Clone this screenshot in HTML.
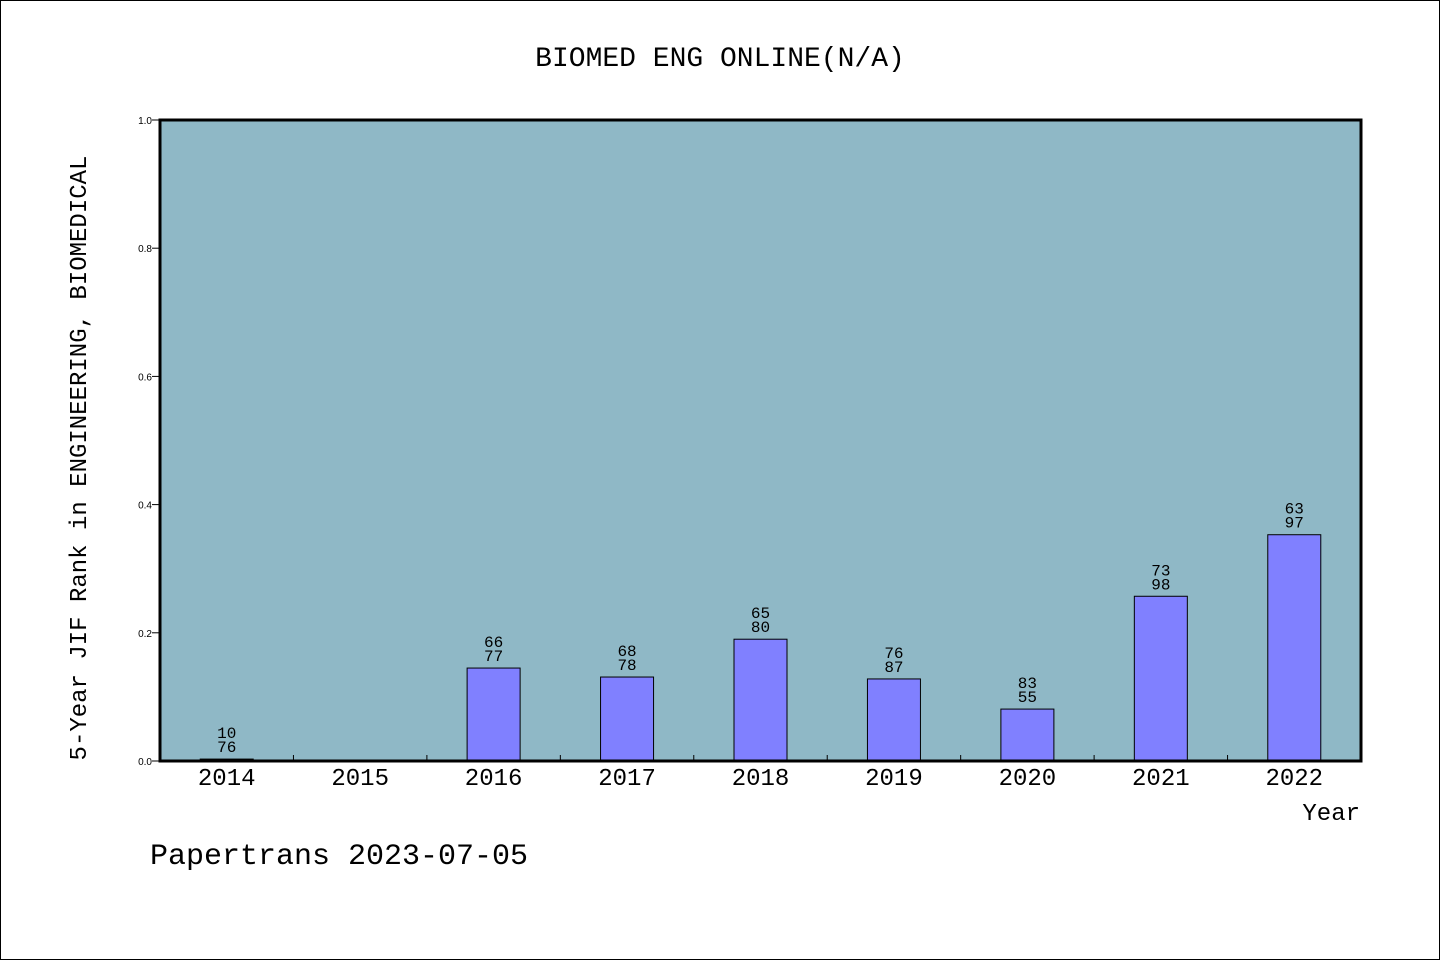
<!DOCTYPE html>
<html><head><meta charset="utf-8"><style>
body{margin:0;background:#fff}
svg{display:block;font-family:"Liberation Mono","DejaVu Sans Mono",monospace}
</style></head><body>
<svg id="chart" width="1440" height="960" viewBox="0 0 1440 960" xmlns="http://www.w3.org/2000/svg">
<rect x="0.5" y="0.5" width="1439" height="959" fill="#fff" stroke="#000"/>
<text x="720" y="66" font-size="28" text-anchor="middle">BIOMED ENG ONLINE(N/A)</text>
<rect x="160" y="120" width="1201" height="641" fill="#8fb8c6"/>
<g id="bars"></g>
<g id="axes"></g>
<rect x="160" y="120" width="1201" height="641" fill="none" stroke="#000" stroke-width="3"/>
<text transform="translate(86,458) rotate(-90)" font-size="24" text-anchor="middle">5-Year JIF Rank in ENGINEERING, BIOMEDICAL</text>
<text x="1360" y="820" font-size="24" text-anchor="end">Year</text>
<text x="150" y="864" font-size="30">Papertrans 2023-07-05</text>
</svg>
<script>
const categories=["2014","2015","2016","2017","2018","2019","2020","2021","2022"];
const values=[0.003,null,0.145,0.131,0.19,0.128,0.081,0.257,0.353];
const ranks=["10","","66","68","65","76","83","73","63"];
const totals=["76","","77","78","80","87","55","98","97"];
const yTicks=[0,0.2,0.4,0.6,0.8,1.0];
const yTickLabels=["0.0","0.2","0.4","0.6","0.8","1.0"];
const NS="http://www.w3.org/2000/svg";
const L=160,R=1361,T=120,B=761;
const step=(R-L)/categories.length;
const xc=i=>L+step*(i+0.5);
const y=v=>B-(B-T)*v;
function mk(tag,attrs,parent,text){const e=document.createElementNS(NS,tag);for(const k in attrs)e.setAttribute(k,attrs[k]);if(text!=null)e.textContent=text;parent.appendChild(e);return e;}
const bars=document.getElementById('bars'),axes=document.getElementById('axes');
categories.forEach((c,i)=>{
  const v=values[i];
  if(v!=null){
    const r=mk('rect',{x:xc(i)-26.5,y:y(v),width:53,height:B-y(v),fill:'#8080ff',stroke:'#000','stroke-width':1},bars);
    
    
    const t1=mk('text',{x:xc(i),y:y(v)-21,'font-size':16,'text-anchor':'middle'},bars,ranks[i]);
    
    
    const t2=mk('text',{x:xc(i),y:y(v)-7,'font-size':16,'text-anchor':'middle'},bars,totals[i]);
    
    
  }
  const xl=mk('text',{x:xc(i),y:785,'font-size':24,'text-anchor':'middle'},axes,c);
  
  
  if(i>0){
    const tk=mk('line',{x1:L+step*i,x2:L+step*i,y1:B,y2:B-6,stroke:'#000'},axes);
    
    
  }
});
yTicks.forEach((v,i)=>{
  const tk=mk('line',{x1:L-8,x2:L,y1:y(v),y2:y(v),stroke:'#000'},axes);
  
  
  const tl=mk('text',{x:L-8,y:y(v)+4,'font-size':10,'text-anchor':'end','font-family':'Liberation Sans, sans-serif'},axes,yTickLabels[i]);
  
  
});
</script>
</body></html>
